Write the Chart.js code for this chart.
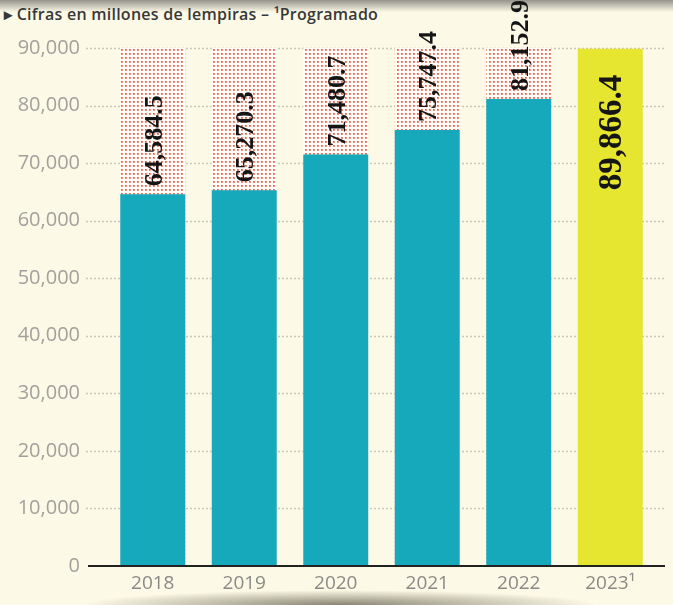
<!DOCTYPE html>
<html>
<head>
<meta charset="utf-8">
<script src="https://cdn.jsdelivr.net/npm/chart.js@4"></script>
<style>
  html, body { margin: 0; padding: 0; }
  body {
    width: 673px; height: 605px; overflow: hidden; position: relative;
    background: #fcf9e6;
  }
  .topshade {
    position: absolute; left: 0; top: 0; width: 673px; height: 12px;
    background: linear-gradient(to bottom, rgba(80,80,80,0.6), rgba(180,180,180,0));
  }
  .note {
    position: absolute; left: 4px; top: 3px;
    font: 600 16px "Open Sans", sans-serif; color: #383838; letter-spacing: 0.25px;
  }
  .bottomshade {
    position: absolute; left: 80px; top: 590px; width: 520px; height: 15px;
    background: radial-gradient(ellipse at 50% 100%, rgba(60,55,40,0.6), rgba(60,55,40,0) 70%);
  }
  #wrap { position: absolute; left: 0; top: 0; width: 673px; height: 605px; }
</style>
</head>
<body>
<div class="topshade"></div>
<div class="note">▸ Cifras en millones de lempiras – ¹Programado</div>
<div id="wrap"><canvas id="chart" width="673" height="605"></canvas></div>
<div class="bottomshade"></div>
<script>
const years = ["2018", "2019", "2020", "2021", "2022", "2023¹"];
const amounts = [64584.5, 65270.3, 71480.7, 75747.4, 81152.9, 89866.4];
const amountLabels = ["64,584.5", "65,270.3", "71,480.7", "75,747.4", "81,152.9", "89,866.4"];
const ceiling = [90000, 90000, 90000, 90000, 90000, null];
const yTicks = [0, 10000, 20000, 30000, 40000, 50000, 60000, 70000, 80000, 90000];

const TEAL = '#16a8bb';
const YELLOW = '#e6e52f';

// small red dot screen for the empty part of each column
function dotPattern() {
  const c = document.createElement('canvas');
  c.width = 4; c.height = 4;
  const g = c.getContext('2d');
  g.fillStyle = '#fdfcf6';
  g.fillRect(0, 0, 4, 4);
  g.fillStyle = 'rgb(240,140,125)';
  g.fillRect(1, 1, 2, 2);
  g.fillStyle = 'rgb(232,88,72)';
  g.fillRect(1, 1, 1, 1);
  return g.createPattern(c, 'repeat');
}

const guides = {
  id: 'guides',
  beforeDatasetsDraw(chart) {
    const ctx = chart.ctx, y = chart.scales.y;
    ctx.save();
    ctx.strokeStyle = '#c9c7bb';
    ctx.lineWidth = 1.5;
    ctx.setLineDash([2, 2]);
    yTicks.forEach(v => {
      if (v === 0) return;
      const py = Math.round(y.getPixelForValue(v)) + 0.5;
      ctx.beginPath();
      ctx.moveTo(86, py);
      ctx.lineTo(665, py);
      ctx.stroke();
    });
    ctx.restore();
  },
  afterDatasetsDraw(chart) {
    const ctx = chart.ctx, y = chart.scales.y;
    const meta = chart.getDatasetMeta(1);
    ctx.save();
    // baseline
    ctx.strokeStyle = '#222';
    ctx.lineWidth = 2;
    const by = y.getPixelForValue(0);
    ctx.beginPath();
    ctx.moveTo(88, by);
    ctx.lineTo(665, by);
    ctx.stroke();
    // rotated value labels
    ctx.fillStyle = '#151515';
    meta.data.forEach((bar, i) => {
      const last = i === amounts.length - 1;
      const size = last ? 33 : 26;
      ctx.save();
      ctx.font = 'bold ' + size + 'px "Liberation Serif", serif';
      ctx.textBaseline = 'alphabetic';
      if (last) {
        ctx.translate(bar.x + size * 0.34, bar.y + 26);
        ctx.rotate(-Math.PI / 2);
        ctx.textAlign = 'right';
      } else {
        ctx.translate(bar.x + size * 0.34, bar.y - 8);
        ctx.rotate(-Math.PI / 2);
        ctx.textAlign = 'left';
      }
      ctx.fillText(amountLabels[i], 0, 0);
      ctx.restore();
    });
    ctx.restore();
  }
};

new Chart(document.getElementById('chart'), {
  type: 'bar',
  data: {
    labels: years,
    datasets: [
      {
        data: ceiling,
        backgroundColor: dotPattern(),
        order: 2,
        grouped: false,
        barPercentage: 0.71,
        categoryPercentage: 1
      },
      {
        data: amounts,
        backgroundColor: amounts.map((v, i) => i === amounts.length - 1 ? YELLOW : TEAL),
        order: 1,
        grouped: false,
        barPercentage: 0.71,
        categoryPercentage: 1
      }
    ]
  },
  options: {
    responsive: false,
    animation: false,
    devicePixelRatio: 1,
    layout: { padding: { top: 48, right: 17, left: 0, bottom: 0 } },
    plugins: { legend: { display: false }, tooltip: { enabled: false } },
    scales: {
      x: {
        grid: { display: false, drawTicks: false },
        border: { display: false },
        ticks: { color: '#8a8a86', padding: 6, maxRotation: 0, autoSkip: false, font: { size: 19, family: '"Open Sans"' } },
        afterFit: s => { s.height = 38; }
      },
      y: {
        min: 0, max: 90000,
        grid: { display: false, drawTicks: false },
        border: { display: false },
        afterBuildTicks: s => { s.ticks = yTicks.map(v => ({ value: v })); },
        ticks: {
          color: '#a2a19c', padding: 27,
          font: { size: 20, family: '"Open Sans"' },
          callback: v => v.toLocaleString('en-US')
        },
        afterFit: s => { s.width = 107; }
      }
    }
  },
  plugins: [guides]
});
</script>
</body>
</html>
